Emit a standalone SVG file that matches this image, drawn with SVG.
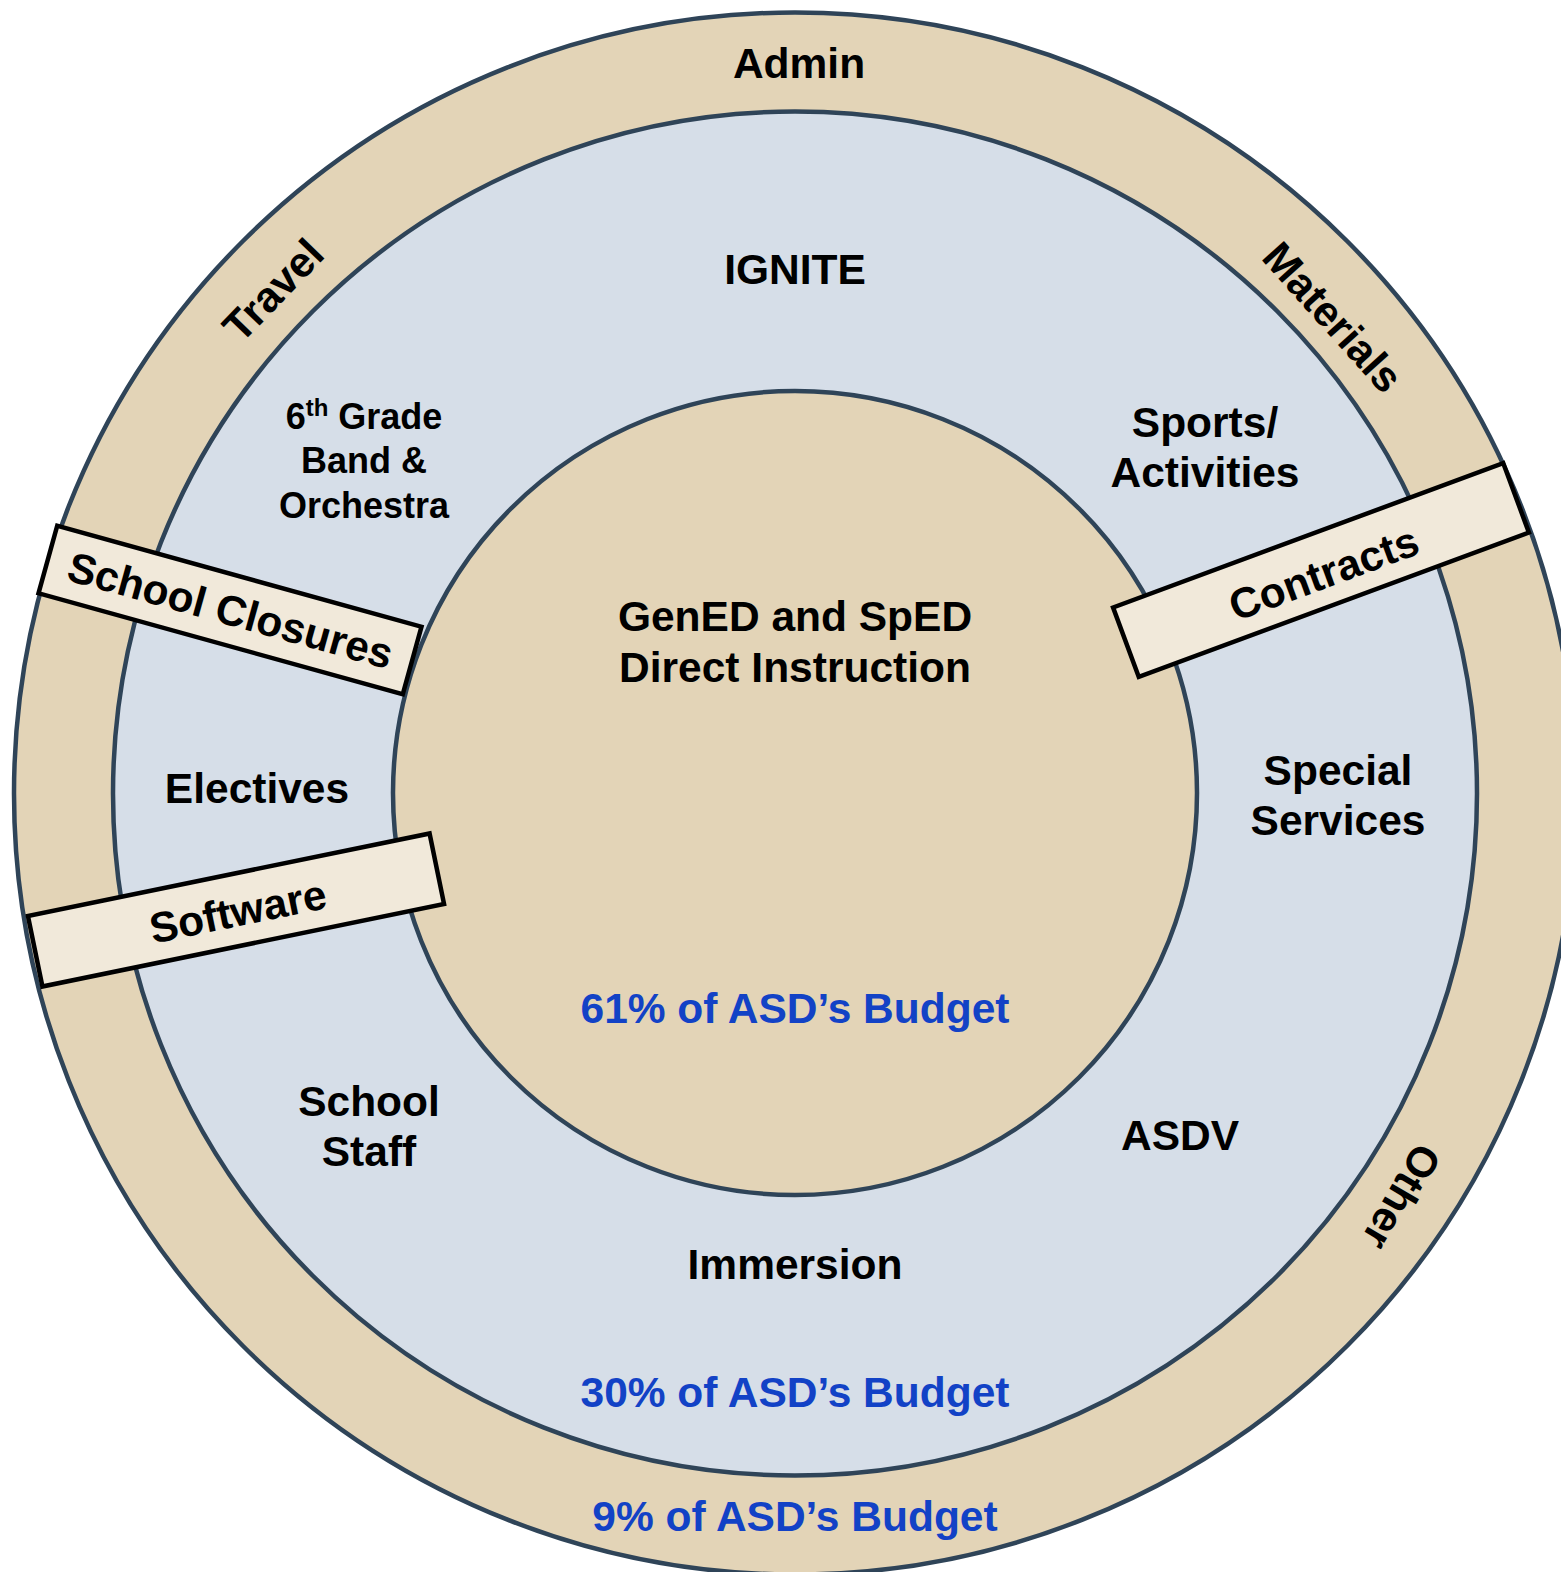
<svg xmlns="http://www.w3.org/2000/svg" width="1561" height="1572" viewBox="0 0 1561 1572">
<style>
.ring{stroke:#2F4458;stroke-width:4.5}
.tan{fill:#E3D4B7}
.blue{fill:#D6DEE8}
.band{fill:#F1E9DA;stroke:#000;stroke-width:4.5}
text{font-family:"Liberation Sans",Arial,sans-serif;font-weight:bold;font-size:42.5px;fill:#000;text-anchor:middle}
.pct{fill:#1242C6}
.sm{font-size:36px}
</style>
<rect width="1561" height="1572" fill="#fff"/>
<g id="outer-ring">
<circle class="ring tan" cx="795" cy="793.5" r="781"/>
<text x="799" y="78">Admin</text>
<text transform="translate(273,290) rotate(-46)" y="15">Travel</text>
<text transform="translate(1333,317) rotate(48)" y="15">Materials</text>
<text transform="translate(1402,1197) rotate(120)" y="15">Other</text>
<text class="pct" x="795" y="1531">9% of ASD’s Budget</text>
</g>
<g id="middle-ring">
<circle class="ring blue" cx="795" cy="793.5" r="682"/>
<text x="795" y="284">IGNITE</text>
<text class="sm" x="364" y="429">6<tspan font-size="24" dy="-13">th</tspan><tspan dy="13"> Grade</tspan></text>
<text class="sm" x="364" y="473">Band &amp;</text>
<text class="sm" x="364" y="518">Orchestra</text>
<text x="1205" y="437">Sports/</text>
<text x="1205" y="487">Activities</text>
<text x="257" y="803">Electives</text>
<text x="1338" y="785">Special</text>
<text x="1338" y="835">Services</text>
<text x="369" y="1116">School</text>
<text x="369" y="1166">Staff</text>
<text x="1180" y="1150">ASDV</text>
<text x="795" y="1279">Immersion</text>
<text class="pct" x="795" y="1407">30% of ASD’s Budget</text>
</g>
<g id="inner-circle">
<circle class="ring tan" cx="795" cy="793" r="402"/>
<text x="795" y="631">GenED and SpED</text>
<text x="795" y="682">Direct Instruction</text>
<text class="pct" x="795" y="1023">61% of ASD’s Budget</text>
</g>
<g id="school-closures">
<rect class="band" transform="translate(230,610) rotate(15.5)" x="-189" y="-35" width="378" height="70"/>
<text transform="translate(230,612) rotate(15.5)" y="13" font-size="38.5">School Closures</text>
</g>
<g id="software">
<rect class="band" transform="translate(236,910) rotate(-11.6)" x="-205" y="-36" width="410" height="72"/>
<text transform="translate(238,912) rotate(-11.6)" y="14">Software</text>
</g>
<g id="contracts">
<rect class="band" transform="translate(1321,570) rotate(-20.3)" x="-208" y="-37" width="416" height="74"/>
<text transform="translate(1324,574) rotate(-20.3)" y="14">Contracts</text>
</g>
<g id="connectors"/>
</svg>
